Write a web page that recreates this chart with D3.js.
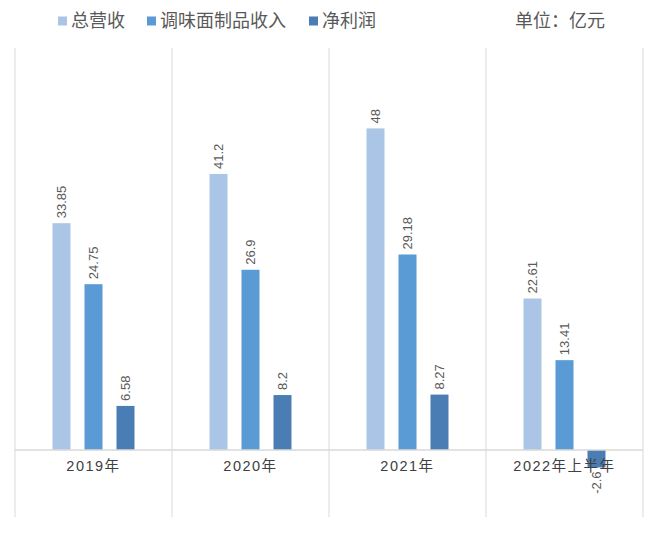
<!DOCTYPE html>
<html>
<head>
<meta charset="utf-8">
<script src="https://cdn.jsdelivr.net/npm/d3@7"></script>
<style>
  html, body { margin: 0; padding: 0; background: #fff; }
  svg { display: block; font-family: "Liberation Sans", "Noto Sans CJK SC", sans-serif; }
</style>
</head>
<body>
<svg id="chart" width="660" height="533"></svg>
<script>
const categories = ["2019年", "2020年", "2021年", "2022年上半年"];
const seriesNames = ["总营收", "调味面制品收入", "净利润"];
const revenue = [33.85, 41.2, 48, 22.61];
const seasoningRevenue = [24.75, 26.9, 29.18, 13.41];
const netProfit = [6.58, 8.2, 8.27, -2.6];
const valueLabels = [
  ["33.85", "41.2", "48", "22.61"],
  ["24.75", "26.9", "29.18", "13.41"],
  ["6.58", "8.2", "8.27", "-2.6"]
];
const unitText = "单位：亿元";

const seriesValues = [revenue, seasoningRevenue, netProfit];
const colors = ["#abc5e6", "#5b9bd5", "#4a7db4"];

const svg = d3.select("#chart");

const x = d3.scaleBand().domain(categories).range([15, 643]).padding(0);
const xInner = d3.scaleBand().domain(seriesNames).range([0, x.bandwidth()])
  .paddingInner(0.4375).paddingOuter(1.172);
const y = d3.scaleLinear().domain([-10, 60]).range([517, 48]);

// vertical separators
const bounds = categories.map(c => x(c)).concat([x.range()[1]]);
svg.append("g").selectAll("line").data(bounds).join("line")
  .attr("x1", d => d).attr("x2", d => d)
  .attr("y1", y(60)).attr("y2", y(-10))
  .attr("stroke", "#d9d9d9").attr("stroke-width", 1);

// bars
const data = [];
categories.forEach((c, i) => {
  seriesNames.forEach((s, j) => {
    data.push({ c, s, j, v: seriesValues[j][i], label: valueLabels[j][i] });
  });
});

svg.append("g").selectAll("rect").data(data).join("rect")
  .attr("x", d => x(d.c) + xInner(d.s))
  .attr("width", xInner.bandwidth())
  .attr("y", d => y(Math.max(0, d.v)))
  .attr("height", d => Math.abs(y(d.v) - y(0)))
  .attr("fill", d => colors[d.j]);

// zero axis line
svg.append("line")
  .attr("x1", x.range()[0]).attr("x2", x.range()[1])
  .attr("y1", y(0)).attr("y2", y(0))
  .attr("stroke", "#d9d9d9").attr("stroke-width", 1.5);

// category labels
svg.append("g").selectAll("text").data(categories).join("text")
  .attr("x", d => x(d) + x.bandwidth() / 2)
  .attr("y", y(0) + 21)
  .attr("text-anchor", "middle")
  .attr("font-size", 14.5)
  .attr("letter-spacing", 1.5)
  .attr("fill", "#404040")
  .text(d => d);

// value labels
svg.append("g").selectAll("text").data(data).join("text")
  .attr("transform", d => {
    const cx = x(d.c) + xInner(d.s) + xInner.bandwidth() / 2 + 4.5;
    const cy = d.v >= 0 ? y(d.v) - 5 : y(d.v) + 4;
    return `translate(${cx},${cy}) rotate(-90)`;
  })
  .attr("text-anchor", d => d.v >= 0 ? "start" : "end")
  .attr("font-size", 13)
  .attr("fill", "#595959")
  .text(d => d.label);

// legend
const legendX = [58, 147, 309];
const legend = svg.append("g").selectAll("g").data(seriesNames).join("g")
  .attr("transform", (d, i) => `translate(${legendX[i]},21)`);
legend.append("rect")
  .attr("x", 0).attr("y", -4.5).attr("width", 9).attr("height", 9)
  .attr("fill", (d, i) => colors[i]);
legend.append("text")
  .attr("x", 13).attr("y", 0).attr("dy", "0.35em")
  .attr("font-size", 18)
  .attr("fill", "#595959")
  .text(d => d);

svg.append("text")
  .attr("x", 515).attr("y", 21).attr("dy", "0.35em")
  .attr("font-size", 18)
  .attr("fill", "#595959")
  .text(unitText);
</script>
</body>
</html>
